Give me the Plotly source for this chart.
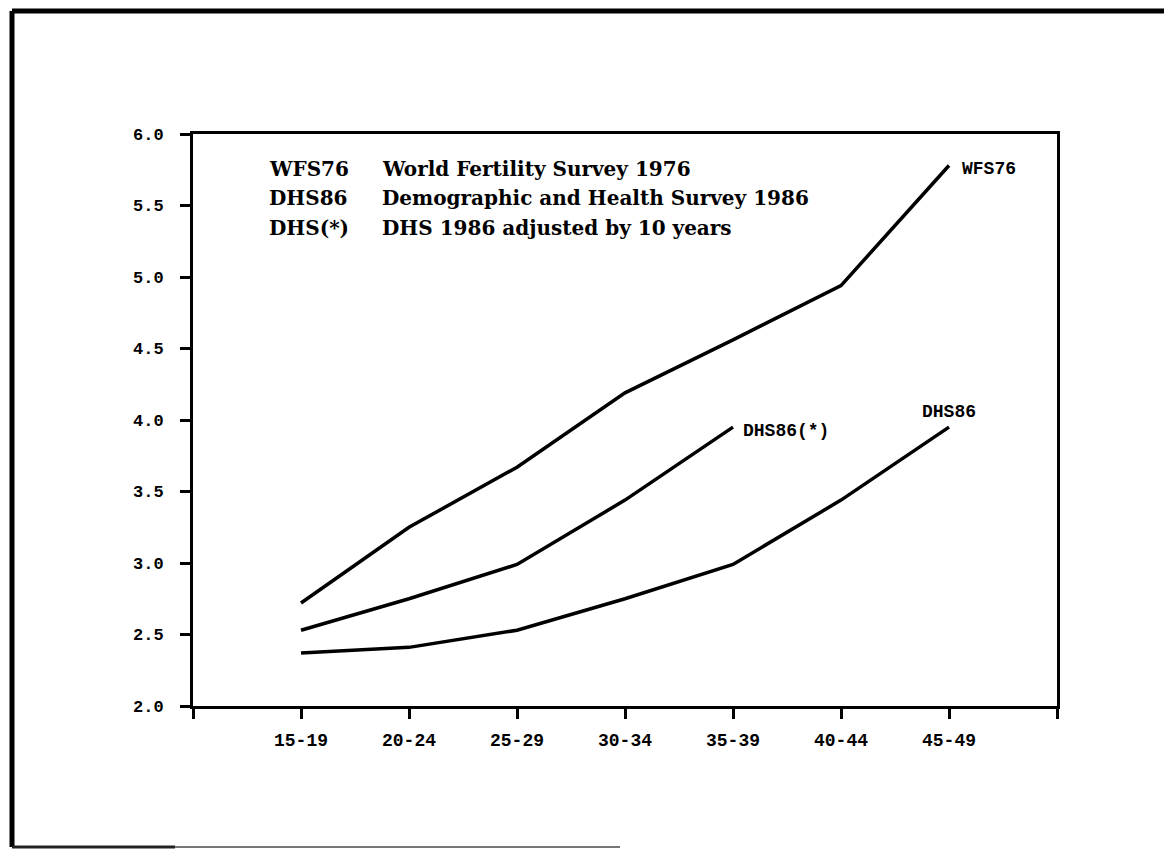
import plotly.graph_objects as go

categories = ["15-19", "20-24", "25-29", "30-34", "35-39", "40-44", "45-49"]
wfs76 = [2.72, 3.25, 3.67, 4.19, 4.56, 4.94, 5.78]
dhs86 = [2.37, 2.41, 2.53, 2.75, 2.99, 3.44, 3.95]
dhs_adj = [2.53, 2.75, 2.99, 3.44, 3.95]
y_ticks = [2.0, 2.5, 3.0, 3.5, 4.0, 4.5, 5.0, 5.5, 6.0]
legend_codes = ["WFS76", "DHS86", "DHS(*)"]
legend_texts = ["World Fertility Survey 1976", "Demographic and Health Survey 1986",
                "DHS 1986 adjusted by 10 years"]

xpos = list(range(1, len(categories) + 1))

fig = go.Figure()
line_style = dict(color="black", width=3.5)
fig.add_trace(go.Scatter(x=xpos, y=wfs76, mode="lines", line=line_style, showlegend=False))
fig.add_trace(go.Scatter(x=xpos[:len(dhs_adj)], y=dhs_adj, mode="lines", line=line_style, showlegend=False))
fig.add_trace(go.Scatter(x=xpos, y=dhs86, mode="lines", line=line_style, showlegend=False))

mono = "Liberation Mono"
serif = "DejaVu Serif"
lab_font = dict(family=mono, size=18, color="black", weight="bold")

# end-of-line labels
fig.add_annotation(x=xpos[-1], y=wfs76[-1], text="WFS76", showarrow=False, xanchor="left",
                   xshift=11, yshift=-4, font=lab_font)
fig.add_annotation(x=xpos[len(dhs_adj) - 1], y=dhs_adj[-1], text="DHS86(*)", showarrow=False,
                   xanchor="left", xshift=8, yshift=-4, font=lab_font)
fig.add_annotation(x=xpos[-1], y=dhs86[-1], text="DHS86", showarrow=False, xanchor="center",
                   yshift=15, font=lab_font)


def px_x(p):
    return (p - 193) / 864


def px_y(p):
    return (706 - p) / 572


# legend block
row_y = [169, 198, 228]
for code, txt, py in zip(legend_codes, legend_texts, row_y):
    fig.add_annotation(x=px_x(267), y=px_y(py), xref="paper", yref="paper", text=code,
                       showarrow=False, xanchor="left", yanchor="middle",
                       font=dict(family=serif, size=20, color="black", weight="bold"))
    fig.add_annotation(x=px_x(380), y=px_y(py), xref="paper", yref="paper", text=txt,
                       showarrow=False, xanchor="left", yanchor="middle",
                       font=dict(family=serif, size=20, color="black", weight="bold"))

# outer frame
fig.add_shape(type="line", xref="paper", yref="paper", x0=px_x(12), x1=px_x(1170),
              y0=px_y(11), y1=px_y(11), line=dict(color="black", width=5))
fig.add_shape(type="line", xref="paper", yref="paper", x0=px_x(12), x1=px_x(12),
              y0=px_y(11), y1=px_y(847), line=dict(color="black", width=5))
fig.add_shape(type="line", xref="paper", yref="paper", x0=px_x(12), x1=px_x(175),
              y0=px_y(847), y1=px_y(847), line=dict(color="#222222", width=3))
fig.add_shape(type="line", xref="paper", yref="paper", x0=px_x(175), x1=px_x(620),
              y0=px_y(847), y1=px_y(847), line=dict(color="#777777", width=2))

fig.update_xaxes(range=[0, 8], tickvals=[0] + xpos + [8], ticktext=[""] + categories + [""],
                 showline=True, linecolor="black", linewidth=3, mirror=True,
                 ticks="outside", ticklen=10, tickwidth=2.5, tickcolor="black",
                 showgrid=False, zeroline=False,
                 tickfont=dict(family=mono, size=18, color="black", weight="bold"),
                 ticklabelstandoff=5)
fig.update_yaxes(range=[2.0, 6.0], tickvals=y_ticks, ticktext=[f"{v:.1f}" for v in y_ticks],
                 showline=True, linecolor="black", linewidth=3, mirror=True,
                 ticks="outside", ticklen=10, tickwidth=2.5, tickcolor="black",
                 showgrid=False, zeroline=False,
                 tickfont=dict(family=mono, size=17, color="black", weight="bold"),
                 ticklabelstandoff=13)

fig.update_layout(width=1164, height=849, margin=dict(l=193, r=107, t=134, b=143),
                  plot_bgcolor="white", paper_bgcolor="white", showlegend=False)

fig.write_html("out.html")
